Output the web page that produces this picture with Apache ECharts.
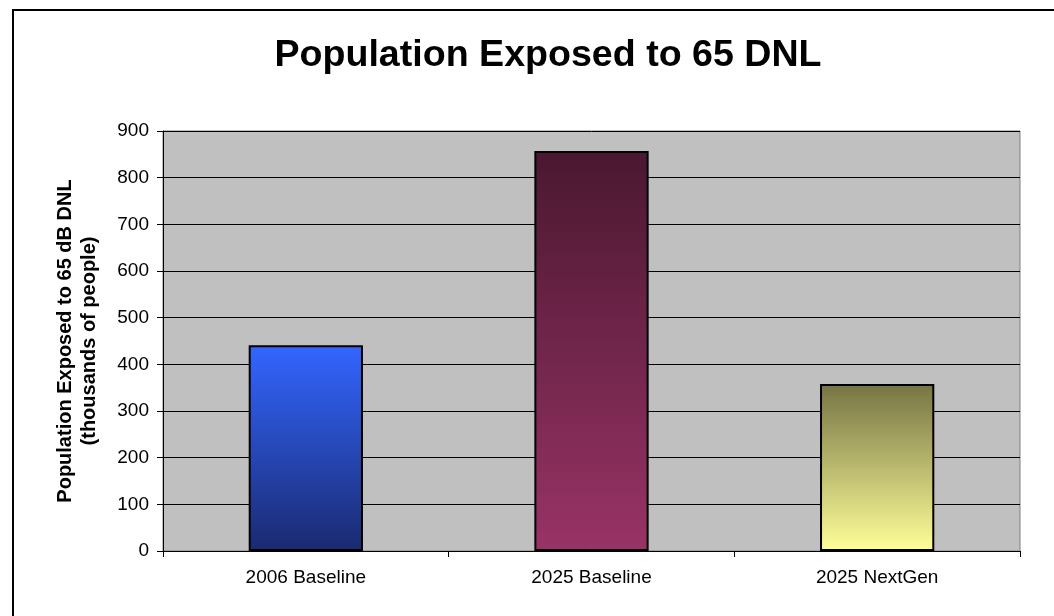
<!DOCTYPE html>
<html>
<head>
<meta charset="utf-8" />
<title>Population Exposed to 65 DNL</title>
<script type="text/javascript" src="https://cdn.jsdelivr.net/npm/echarts@6/dist/echarts.min.js"></script>
<style type="text/css">
	body { margin: 0; background: #fff; }
	#main { width: 1054px; height: 616px; }
</style>
</head>
<body>
<div id="main"></div>
<script type="text/javascript">
// data
var categories = ['2006 Baseline', '2025 Baseline', '2025 NextGen'];
var population = [441, 857, 358];   // thousands of people
var yTicks = [0, 100, 200, 300, 400, 500, 600, 700, 800, 900];

// top / bottom colours of each bar gradient
var barTop = ['#3366FF', '#4A1830', '#767444'];
var barBottom = ['#1A2A70', '#993366', '#FFFF99'];

var font = 'Liberation Sans, Arial, sans-serif';

var myChart = echarts.init(document.getElementById('main'));

var barData = [];
for (var i = 0; i < population.length; i++) {
	barData.push({
		value: population[i],
		itemStyle: {
			color: new echarts.graphic.LinearGradient(0, 0, 0, 1, [
				{ offset: 0, color: barTop[i] },
				{ offset: 1, color: barBottom[i] }
			])
		}
	});
}

var option = {
	animation: false,
	backgroundColor: '#fff',
	textStyle: { fontFamily: font },
	title: {
		text: 'Population Exposed to 65 DNL',
		left: 543,
		textAlign: 'center',
		top: 32,
		textStyle: { fontFamily: font, fontSize: 37.6, fontWeight: 'bold', color: '#000' }
	},
	// frame of the chart object (only top and left edges are in view)
	graphic: [{
		type: 'rect',
		shape: { x: 13, y: 10, width: 1200, height: 800 },
		style: { fill: 'none', stroke: '#000', lineWidth: 2 },
		z: 100
	}],
	grid: {
		left: 163,
		right: 34,
		top: 131,
		bottom: 65,
		show: true,
		backgroundColor: '#C0C0C0',
		borderColor: '#808080',
		borderWidth: 1
	},
	xAxis: {
		type: 'category',
		data: categories,
		axisLine: { lineStyle: { color: '#000', width: 1 } },
		axisTick: { show: true, length: 6, lineStyle: { color: '#000' } },
		axisLabel: { margin: 17, fontSize: 19, color: '#000', fontFamily: font },
		splitLine: { show: false }
	},
	yAxis: {
		type: 'value',
		min: yTicks[0],
		max: yTicks[yTicks.length - 1],
		interval: 100,
		name: 'Population Exposed to 65 dB DNL\n(thousands of people)',
		nameLocation: 'middle',
		nameRotate: 90,
		nameGap: 62,
		nameTextStyle: { fontFamily: font, fontSize: 20, fontWeight: 'bold', color: '#000', lineHeight: 24 },
		axisLine: { show: true, lineStyle: { color: '#000', width: 1 } },
		axisTick: { show: true, length: 6, lineStyle: { color: '#000' } },
		axisLabel: { margin: 14, fontSize: 19, color: '#000', fontFamily: font },
		splitLine: { show: true, lineStyle: { color: '#000', width: 1 } }
	},
	series: [{
		name: 'Population',
		type: 'bar',
		barWidth: '40%',
		data: barData,
		itemStyle: { borderColor: '#000', borderWidth: 2 }
	}]
};

myChart.setOption(option);
</script>
</body>
</html>
